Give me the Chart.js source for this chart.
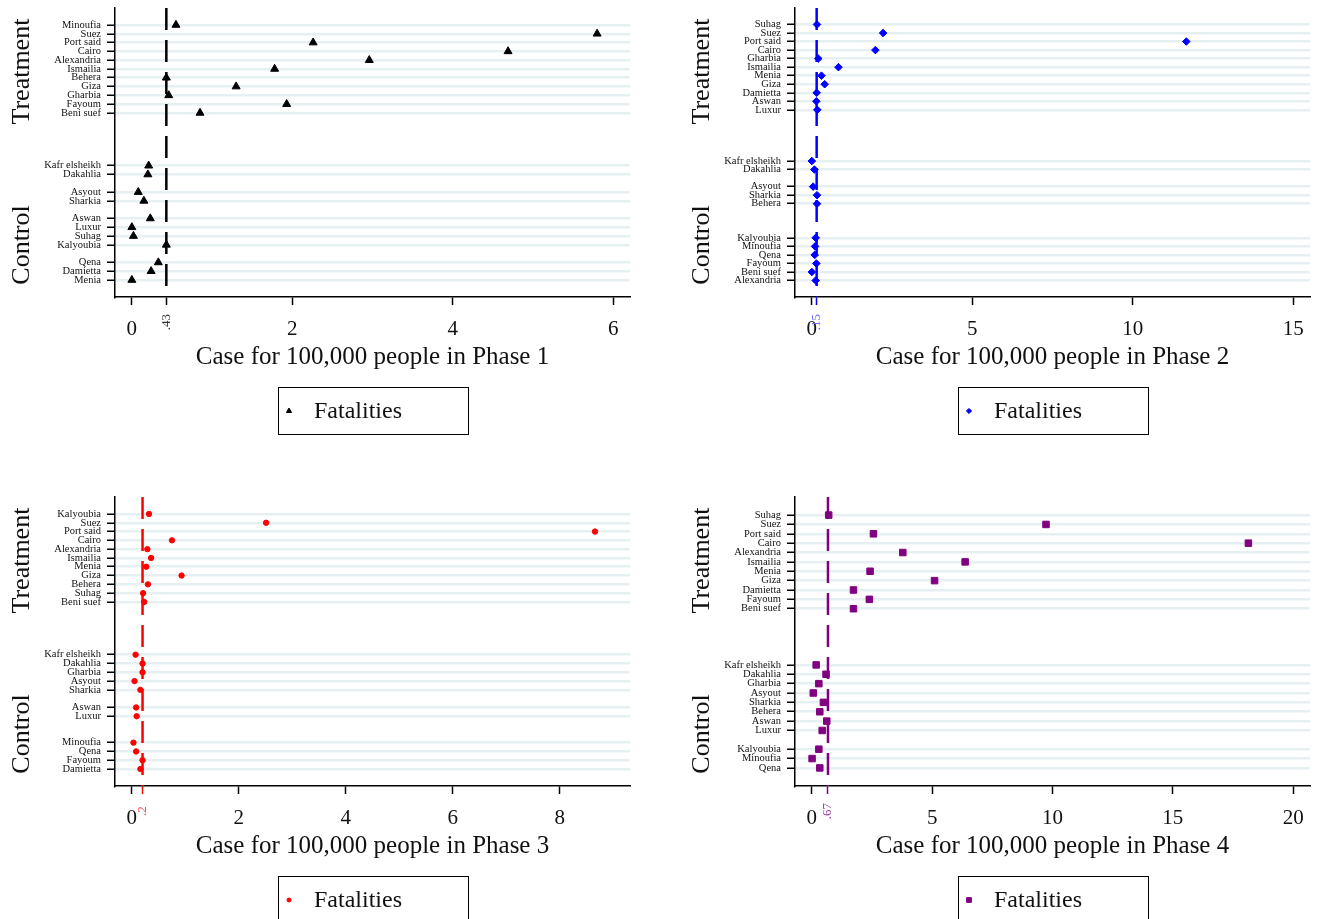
<!DOCTYPE html>
<html>
<head>
<meta charset="utf-8">
<script src="https://cdn.jsdelivr.net/npm/chart.js@4.4.1/dist/chart.umd.min.js"></script>
<style>
  html, body { margin: 0; padding: 0; background: #fff; overflow: hidden; }
  .panel { position: absolute; width: 641px; height: 489px; }
</style>
</head>
<body>
<div class="panel" style="left:0;top:0"><canvas id="phase1" width="641" height="489"></canvas></div>
<div class="panel" style="left:680px;top:0"><canvas id="phase2" width="641" height="489"></canvas></div>
<div class="panel" style="left:0;top:489px"><canvas id="phase3" width="641" height="489"></canvas></div>
<div class="panel" style="left:680px;top:489px"><canvas id="phase4" width="641" height="489"></canvas></div>
<script>
// governorates per phase, row slot on the dot chart, and the value
var phase1Names = ["Minoufia", "Suez", "Port said", "Cairo", "Alexandria", "Ismailia", "Behera", "Giza", "Gharbia", "Fayoum", "Beni suef",
    "Kafr elsheikh", "Dakahlia", "Asyout", "Sharkia", "Aswan", "Luxur", "Suhag", "Kalyoubia", "Qena", "Damietta", "Menia"];
var phase1Rows = [0, 1, 2, 3, 4, 5, 6, 7, 8, 9, 10, 16, 17, 19, 20, 22, 23, 24, 25, 27, 28, 29];
var phase1Values = [0.55, 5.80, 2.26, 4.69, 2.96, 1.78, 0.43, 1.30, 0.46, 1.93, 0.85,
    0.21, 0.20, 0.08, 0.15, 0.23, 0.00, 0.02, 0.43, 0.33, 0.24, 0.00];
var phase1Ticks = [0, 2, 4, 6];
var phase1Mean = 0.43;

var phase2Names = ["Suhag", "Suez", "Port said", "Cairo", "Gharbia", "Ismailia", "Menia", "Giza", "Damietta", "Aswan", "Luxur",
    "Kafr elsheikh", "Dakahlia", "Asyout", "Sharkia", "Behera", "Kalyoubia", "Minoufia", "Qena", "Fayoum", "Beni suef", "Alexandria"];
var phase2Rows = [0, 1, 2, 3, 4, 5, 6, 7, 8, 9, 10, 16, 17, 19, 20, 21, 25, 26, 27, 28, 29, 30];
var phase2Values = [0.16, 2.22, 11.67, 1.98, 0.20, 0.83, 0.30, 0.40, 0.15, 0.14, 0.17,
    0.00, 0.08, 0.04, 0.16, 0.16, 0.12, 0.10, 0.09, 0.14, 0.00, 0.12];
var phase2Ticks = [0, 5, 10, 15];
var phase2Mean = 0.15;

var phase3Names = ["Kalyoubia", "Suez", "Port said", "Cairo", "Alexandria", "Ismailia", "Menia", "Giza", "Behera", "Suhag", "Beni suef",
    "Kafr elsheikh", "Dakahlia", "Gharbia", "Asyout", "Sharkia", "Aswan", "Luxur", "Minoufia", "Qena", "Fayoum", "Damietta"];
var phase3Rows = [0, 1, 2, 3, 4, 5, 6, 7, 8, 9, 10, 16, 17, 18, 19, 20, 22, 23, 26, 27, 28, 29];
var phase3Values = [0.32, 2.51, 8.66, 0.75, 0.29, 0.36, 0.27, 0.93, 0.30, 0.21, 0.23,
    0.07, 0.20, 0.20, 0.05, 0.16, 0.08, 0.09, 0.03, 0.08, 0.20, 0.16];
var phase3Ticks = [0, 2, 4, 6, 8];
var phase3Mean = 0.2;

var phase4Names = ["Suhag", "Suez", "Port said", "Cairo", "Alexandria", "Ismailia", "Menia", "Giza", "Damietta", "Fayoum", "Beni suef",
    "Kafr elsheikh", "Dakahlia", "Gharbia", "Asyout", "Sharkia", "Behera", "Aswan", "Luxur", "Kalyoubia", "Minoufia", "Qena"];
var phase4Rows = [0, 1, 2, 3, 4, 5, 6, 7, 8, 9, 10, 16, 17, 18, 19, 20, 21, 22, 23, 25, 26, 27];
var phase4Values = [0.70, 9.73, 2.56, 18.14, 3.78, 6.37, 2.42, 5.10, 1.73, 2.39, 1.73,
    0.18, 0.59, 0.29, 0.06, 0.48, 0.33, 0.62, 0.43, 0.29, 0.01, 0.33];
var phase4Ticks = [0, 5, 10, 15, 20];
var phase4Mean = 0.67;

var groupLabels = ["Treatment", "Control"];
var legendLabel = "Fatalities";

var serif = '"Liberation Serif", "DejaVu Serif", serif';

// group labels, mean label under the axis and the boxed legend
var extras = {
    id: 'extras',
    afterDraw(chart, args, o) {
        var ctx = chart.ctx, a = chart.chartArea;
        ctx.save();
        ctx.fillStyle = '#111';
        ctx.textAlign = 'center';
        ctx.textBaseline = 'middle';
        ctx.font = '26px ' + serif;
        [[groupLabels[0], 0.22], [groupLabels[1], 0.82]].forEach(function (g) {
            ctx.save();
            ctx.translate(22, a.top + g[1] * a.height);
            ctx.rotate(-Math.PI / 2);
            ctx.fillText(g[0], 0, 0);
            ctx.restore();
        });

        var mx = chart.scales.x.getPixelForValue(o.mean);
        ctx.save();
        ctx.translate(mx, a.bottom + 25);
        ctx.rotate(-Math.PI / 2);
        ctx.font = '13px ' + serif;
        ctx.fillStyle = o.labelColor;
        ctx.fillText(o.meanText, 0, 0);
        ctx.restore();

        var w = 190, h = 47;
        var lx = Math.round((a.left + a.right) / 2 - w / 2), ly = Math.round(a.bottom + 90);
        ctx.strokeStyle = '#000';
        ctx.lineWidth = 1;
        ctx.strokeRect(lx + 0.5, ly + 0.5, w, h);
        ctx.fillStyle = o.color;
        ctx.strokeStyle = o.color;
        Chart.helpers.drawPoint(ctx, {pointStyle: o.style, radius: o.legendRadius, borderWidth: 1, rotation: 0}, lx + 11, ly + 24);
        ctx.fillStyle = '#111';
        ctx.textAlign = 'left';
        ctx.font = '24px ' + serif;
        ctx.fillText(legendLabel, lx + 36, ly + 25);
        ctx.restore();
    }
};

function dotChart(id, names, rows, values, ticks, axisMax, mean, meanText, look) {
    var pad = 1.93;
    var points = values.map(function (v, i) { return {x: v, y: rows[i]}; });
    var lastRow = rows[rows.length - 1];
    return new Chart(id, {
        type: 'scatter',
        data: {
            datasets: [{
                data: points,
                pointStyle: look.style,
                pointRadius: look.radius,
                backgroundColor: look.color,
                borderColor: look.color,
                borderWidth: 1,
                order: 1
            }, {
                data: [{x: mean, y: -pad}, {x: mean, y: lastRow + pad}],
                showLine: true,
                pointRadius: 0,
                borderColor: look.color,
                borderWidth: 2.5,
                borderDash: [22, 10],
                order: 2
            }]
        },
        options: {
            responsive: false,
            animation: false,
            layout: {padding: {top: 8, right: 11, bottom: 117, left: 0}},
            plugins: {
                legend: {display: false},
                tooltip: {enabled: false},
                extras: {mean: mean, meanText: meanText, color: look.color, labelColor: look.labelColor,
                         style: look.style, legendRadius: look.legendRadius}
            },
            scales: {
                x: {
                    type: 'linear',
                    min: -0.035 * axisMax,
                    max: 1.035 * axisMax,
                    afterBuildTicks: function (s) { s.ticks = ticks.concat([mean]).map(function (v) { return {value: v}; }); },
                    afterFit: function (s) { s.height = 75; s.paddingLeft = 0; s.paddingRight = 0; },
                    grid: {
                        drawOnChartArea: false,
                        tickLength: 8,
                        tickWidth: 1.5,
                        tickColor: function (c) { return c.tick && c.tick.value === mean ? look.color : '#000'; }
                    },
                    border: {color: '#000', width: 1.5},
                    ticks: {
                        autoSkip: false,
                        maxRotation: 0,
                        padding: 12,
                        color: '#111',
                        font: {family: serif, size: 21},
                        callback: function (v) { return v === mean ? '' : String(v); }
                    },
                    title: {
                        display: true,
                        text: 'Case for 100,000 people in ' + look.phase,
                        color: '#111',
                        padding: 0,
                        font: {family: serif, size: 25}
                    }
                },
                y: {
                    type: 'linear',
                    reverse: true,
                    min: -pad,
                    max: lastRow + pad,
                    afterBuildTicks: function (s) { s.ticks = rows.map(function (r) { return {value: r}; }); },
                    afterFit: function (s) { s.width = 115; s.paddingTop = 0; s.paddingBottom = 0; },
                    grid: {
                        color: '#e6eff2',
                        lineWidth: 2.5,
                        tickLength: 8,
                        tickWidth: 1.5,
                        tickColor: '#000'
                    },
                    border: {color: '#000', width: 1.5},
                    ticks: {
                        autoSkip: false,
                        padding: 6,
                        color: '#111',
                        font: {family: serif, size: 10.5},
                        callback: function (v) { var i = rows.indexOf(v); return i < 0 ? '' : names[i]; }
                    }
                }
            }
        },
        plugins: [extras]
    });
}

dotChart('phase1', phase1Names, phase1Rows, phase1Values, phase1Ticks, 6, phase1Mean, '.43',
    {phase: 'Phase 1', style: 'triangle', radius: 4.6, legendRadius: 3, color: '#000000', labelColor: '#333333'});
dotChart('phase2', phase2Names, phase2Rows, phase2Values, phase2Ticks, 15, phase2Mean, '.15',
    {phase: 'Phase 2', style: 'rectRot', radius: 3.8, legendRadius: 2.6, color: '#0000ff', labelColor: '#6b6bff'});
dotChart('phase3', phase3Names, phase3Rows, phase3Values, phase3Ticks, 9, phase3Mean, '.2',
    {phase: 'Phase 3', style: 'circle', radius: 2.7, legendRadius: 2, color: '#ff0000', labelColor: '#ff4040'});
dotChart('phase4', phase4Names, phase4Rows, phase4Values, phase4Ticks, 20, phase4Mean, '.67',
    {phase: 'Phase 4', style: 'rect', radius: 4.6, legendRadius: 3.4, color: '#800080', labelColor: '#9a409a'});
</script>
</body>
</html>
